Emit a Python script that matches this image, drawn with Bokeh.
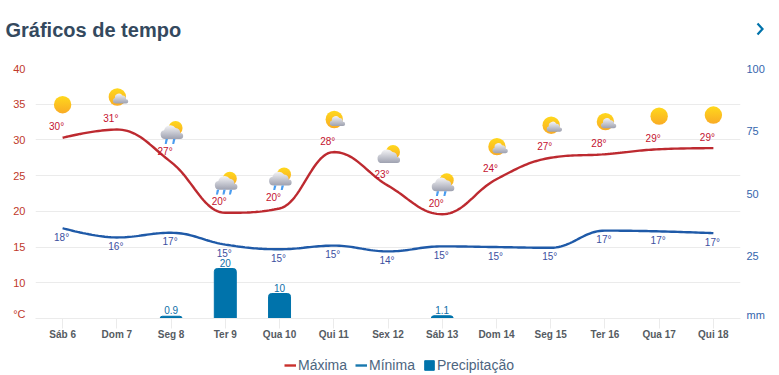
import base64
import numpy as np
from bokeh.core.properties import value
from bokeh.embed import file_html
from bokeh.layouts import column
from bokeh.models import (ColumnDataSource, FixedTicker, Legend, LegendItem,
                          LinearAxis, Range1d)
from bokeh.plotting import figure
from bokeh.resources import INLINE

title_text = "Gráficos de tempo"
days = ["Sáb 6", "Dom 7", "Seg 8", "Ter 9", "Qua 10", "Qui 11", "Sex 12", "Sáb 13",
        "Dom 14", "Seg 15", "Ter 16", "Qua 17", "Qui 18"]
maxima = [30.3, 31.45, 26.9, 19.8, 20.4, 28.3, 23.6, 19.6, 24.5, 27.5, 28.0, 28.7, 28.85]
minima = [17.65, 16.35, 17.0, 15.35, 14.7, 15.2, 14.4, 15.1, 15.0, 14.9, 17.3, 17.2, 16.95]
max_labels = [30, 31, 27, 20, 20, 28, 23, 20, 24, 27, 28, 29, 29]
min_labels = [18, 16, 17, 15, 15, 15, 14, 15, 15, 15, 17, 17, 17]
rain = [0, 0, 0.9, 20, 10, 0, 0, 1.1, 0, 0, 0, 0, 0]
rain_labels = ["", "", "0.9", "20", "10", "", "", "1.1", "", "", "", "", ""]
icons = ["sun", "suncloud", "rain2", "rain3", "rain2", "suncloud", "cloud", "rain2",
         "suncloud", "suncloud", "suncloud", "sun", "sun"]
temp_ticks = [10, 15, 20, 25, 30, 35, 40]
rain_ticks = [25, 50, 75, 100]

RED, BLUE, BAR = "#bd2a30", "#1f5aa8", "#0073ab"
xs = np.arange(len(days), dtype=float)


def spline(x, y):
    """Smooth curve through the points, the way the source chart's spline does."""
    n = len(x)
    lc = [(x[i], y[i]) for i in range(n)]
    rc = [(x[i], y[i]) for i in range(n)]
    for i in range(1, n - 1):
        lx, ly = (1.5 * x[i] + x[i - 1]) / 2.5, (1.5 * y[i] + y[i - 1]) / 2.5
        rx, ry = (1.5 * x[i] + x[i + 1]) / 2.5, (1.5 * y[i] + y[i + 1]) / 2.5
        c = (ry - ly) * (rx - x[i]) / (rx - lx) + y[i] - ry
        ly += c
        ry += c
        if ly > y[i - 1] and ly > y[i]:
            ly = max(y[i - 1], y[i]); ry = 2 * y[i] - ly
        elif ly < y[i - 1] and ly < y[i]:
            ly = min(y[i - 1], y[i]); ry = 2 * y[i] - ly
        if ry > y[i + 1] and ry > y[i]:
            ry = max(y[i + 1], y[i]); ly = 2 * y[i] - ry
        elif ry < y[i + 1] and ry < y[i]:
            ry = min(y[i + 1], y[i]); ly = 2 * y[i] - ry
        lc[i], rc[i] = (lx, ly), (rx, ry)
    t = np.linspace(0, 1, 24)[:, None]
    out = []
    for i in range(n - 1):
        p = np.array([(x[i], y[i]), rc[i], lc[i + 1], (x[i + 1], y[i + 1])])
        out.append((1 - t) ** 3 * p[0] + 3 * (1 - t) ** 2 * t * p[1] + 3 * (1 - t) * t ** 2 * p[2] + t ** 3 * p[3])
    out = np.vstack(out)
    return out[:, 0], out[:, 1]


DEFS = ('<defs><linearGradient id="s" x1="0" y1="0" x2="0" y2="1"><stop offset="0" stop-color="#ffd81c"/>'
        '<stop offset="1" stop-color="#f9ab25"/></linearGradient>'
        '<linearGradient id="c" x1="0" y1="0" x2="0" y2="1"><stop offset="0" stop-color="#f4f4f6"/>'
        '<stop offset="1" stop-color="#9ea1b0"/></linearGradient></defs>')
BIG_CLOUD = ('<path fill="url(#c)" d="M9 20a4.4 4.4 0 0 1-1-8.7 a6.5 6.5 0 0 1 11.5-2.3 '
             'a5 5 0 0 1 4.6 5 a3 3 0 0 1 0 6z"/>')
DROP = '<path fill="#4a9df0" d="M{x} 20h2.4l-1.3 5h-2z"/>'


def svg_uri(kind):
    body = DEFS
    if kind == "sun":
        body += '<circle cx="15" cy="15" r="8.7" fill="url(#s)"/>'
    elif kind == "suncloud":
        body += ('<circle cx="15.5" cy="15.5" r="8.7" fill="url(#s)"/>'
                 '<path fill="url(#c)" d="M13.5 22a2.8 2.8 0 0 1-.4-5.5 a4 4 0 0 1 7.5-2.4 a3.6 3.6 0 0 1 3.6 3.6 a2.2 2.2 0 0 1 2.2 2.2 a2.2 2.2 0 0 1-2 2.1z"/>')
    elif kind == "cloud":
        body += '<g transform="translate(0 5.5)"><circle cx="20" cy="9" r="7" fill="url(#s)"/>' + BIG_CLOUD + '</g>'
    else:
        drops = [9.5, 17] if kind == "rain2" else [6.5, 13, 19.5]
        body += ('<g transform="translate(0 5)"><circle cx="19.5" cy="9" r="7" fill="url(#s)"/>' + BIG_CLOUD
                 + "".join(DROP.format(x=d) for d in drops) + '</g>')
    s = f'<svg xmlns="http://www.w3.org/2000/svg" width="30" height="30" viewBox="0 0 30 30">{body}</svg>'
    return "data:image/svg+xml;base64," + base64.b64encode(s.encode()).decode()


FONT = "Liberation Sans"
GRID = "#ebebeb"
W, TOP_H, MAIN_H, LEG_H = 779, 58, 285, 32
LEFT, RIGHT, MAIN_TOP = 35, 39, 10

# ---- heading strip
head = figure(width=W, height=TOP_H, output_backend="svg", toolbar_location=None,
              x_range=Range1d(0, W), y_range=Range1d(TOP_H, 0), x_axis_type=None, y_axis_type=None,
              min_border=0, outline_line_color=None, frame_align=False)
head.grid.visible = False
head.text([5], [29], text=[title_text], text_font=value(FONT), text_font_size="20px",
          text_font_style="bold", text_color="#34495e", text_baseline="middle")
head.line([757, 762, 757], [23, 28.5, 34], line_color=BAR, line_width=2.2, line_join="miter")

# ---- chart
p = figure(width=W, height=MAIN_H, output_backend="svg", toolbar_location=None,
           x_range=Range1d(-0.5, 12.5), y_range=Range1d(5, 40),
           min_border_left=LEFT, min_border_right=RIGHT, min_border_top=MAIN_TOP, min_border_bottom=25,
           outline_line_color=None, background_fill_color="white", border_fill_color="white",
           frame_align=False)
p.extra_y_ranges = {"rain": Range1d(0, 100)}

p.xgrid.visible = False
p.ygrid.grid_line_color = GRID
p.ygrid.ticker = FixedTicker(ticks=[5] + temp_ticks)

p.xaxis.ticker = FixedTicker(ticks=list(xs))
p.xaxis.major_label_overrides = {float(i): d for i, d in enumerate(days)}
p.xaxis.major_label_text_font = FONT
p.xaxis.major_label_text_font_size = "10px"
p.xaxis.major_label_text_font_style = "bold"
p.xaxis.major_label_text_color = "#555b62"
p.xaxis.major_label_standoff = 0
p.xaxis.axis_line_color = GRID
p.xaxis.major_tick_line_color = GRID
p.xaxis.major_tick_in = 0
p.xaxis.major_tick_out = 10
p.xaxis.minor_tick_line_color = None

UNIT_TEMP, UNIT_RAIN = 5.7, 1.6  # where the unit captions sit on each axis
p.yaxis.ticker = FixedTicker(ticks=[UNIT_TEMP] + temp_ticks)
p.yaxis.major_label_overrides = {UNIT_TEMP: "°C"}
p.yaxis.axis_line_color = None
p.yaxis.major_tick_line_color = None
p.yaxis.minor_tick_line_color = None
p.yaxis.major_tick_in = 0
p.yaxis.major_tick_out = 0
p.yaxis.major_label_standoff = 10
p.yaxis.major_label_text_font = FONT
p.yaxis.major_label_text_font_size = "11px"
p.yaxis.major_label_text_color = "#c0392b"

right = LinearAxis(y_range_name="rain", ticker=FixedTicker(ticks=[UNIT_RAIN] + rain_ticks),
                   major_label_overrides={UNIT_RAIN: "mm"},
                   axis_line_color=None, major_tick_line_color=None, minor_tick_line_color=None,
                   major_tick_in=0, major_tick_out=0,
                   major_label_standoff=6, major_label_text_font=FONT,
                   major_label_text_font_size="11px", major_label_text_color="#3566ad")
p.add_layout(right, "right")

p.vbar(x=xs, top=rain, bottom=0, width=0.405, y_range_name="rain", color=BAR, border_radius=(3, 3, 0, 0))
mx, my = spline(xs, maxima)
nx, ny = spline(xs, minima)
p.line(mx, my, line_color=RED, line_width=2.4)
p.line(nx, ny, line_color=BLUE, line_width=2.4)

p.text(xs, maxima, text=[f"{v}°" for v in max_labels], x_offset=-6, y_offset=-11,
       text_font=value(FONT), text_font_size="10px", text_color="#c4122f",
       text_align="center", text_baseline="middle")
p.text(xs, minima, text=[f"{v}°" for v in min_labels], x_offset=-1, y_offset=9,
       text_font=value(FONT), text_font_size="10px", text_color="#3c4f9f",
       text_align="center", text_baseline="middle")
p.text(xs, rain, text=rain_labels, y_range_name="rain", y_offset=-2,
       text_font=value(FONT), text_font_size="10px", text_color="#0f6fa8",
       text_align="center", text_baseline="bottom")

ICON_LIFT = 4.63  # degrees: the icons float 33px above the maximum line
icon_src = ColumnDataSource(dict(url=[svg_uri(k) for k in icons], x=xs, y=np.array(maxima) + ICON_LIFT))
p.image_url(url="url", x="x", y="y", w=30, h=30, w_units="screen", h_units="screen",
            anchor="center", source=icon_src)

# ---- legend strip: samples live off-range, only their legend keys show
foot = figure(width=W, height=LEG_H, output_backend="svg", toolbar_location=None,
              x_range=Range1d(0, 1), y_range=Range1d(0, 1), x_axis_type=None, y_axis_type=None,
              min_border=0, outline_line_color=None, frame_align=False)
foot.grid.visible = False
k_max = foot.line([5, 6], [5, 6], line_color="#c9302c", line_width=2.4)
k_min = foot.line([5, 6], [5, 6], line_color="#1878ae", line_width=2.4)
k_rain = foot.vbar(x=[5], top=[6], bottom=5, width=1, color=BAR)
legend = Legend(items=[LegendItem(label="Máxima", renderers=[k_max]),
                       LegendItem(label="Mínima", renderers=[k_min]),
                       LegendItem(label="Precipitação", renderers=[k_rain])],
                orientation="horizontal", location=(284, 2), border_line_color=None,
                background_fill_alpha=0, padding=0, margin=0, spacing=8, label_standoff=2,
                glyph_width=12, glyph_height=12, label_text_font=FONT,
                label_text_font_size="14px", label_text_color="#4d6580")
foot.add_layout(legend, "center")

layout = column(head, p, foot, spacing=0)
open("out.html", "w").write(file_html(layout, INLINE))
